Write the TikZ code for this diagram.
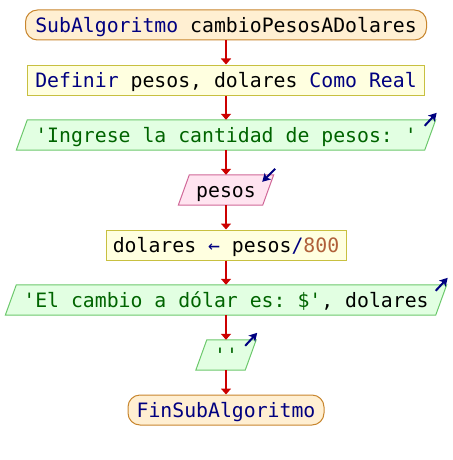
\documentclass[tikz,border=0pt]{standalone}
\usepackage{fontspec}
\setmonofont{DejaVu Sans Mono}
\usetikzlibrary{arrows.meta,backgrounds}

% palette
\definecolor{kw}{HTML}{000080}
\definecolor{str}{HTML}{006400}
\definecolor{num}{HTML}{B0603A}
\definecolor{flow}{HTML}{CC0000}
\definecolor{termfill}{HTML}{FFEFD2}
\definecolor{termline}{HTML}{C8862E}
\definecolor{procfill}{HTML}{FFFFE0}
\definecolor{procline}{HTML}{C8C040}
\definecolor{outfill}{HTML}{E2FFE2}
\definecolor{outline}{HTML}{6CC86C}
\definecolor{infill}{HTML}{FFE4F0}
\definecolor{inline}{HTML}{D06898}

\tikzset{
  base/.style={font=\ttfamily\fontsize{19.8}{24}\selectfont, inner sep=0pt,
    minimum height=30pt, text height=14.4pt, text depth=0pt},
  term/.style={base, draw=termline, fill=termfill, line width=1pt, rounded corners=12pt},
  proc/.style={base, draw=procline, fill=procfill, line width=1pt},
  io/.style={base},
  flowline/.style={draw=flow, line width=2pt, -{Triangle[length=6pt,width=10pt]}},
  outshape/.style={draw=outline, fill=outfill, line width=1pt},
  inshape/.style={draw=inline, fill=infill, line width=1pt},
  iconarrow/.style={draw=kw, line width=2pt, -{Stealth[length=8pt,width=9pt,inset=2pt]}},
}

% slanted box behind an io node: #1 node name, #2 style
\newcommand{\slantbox}[2]{%
  \path[#2] ([xshift=5.5pt]#1.north west) -- ([xshift=5.5pt]#1.north east)
    -- ([xshift=-5.5pt]#1.south east) -- ([xshift=-5.5pt]#1.south west) -- cycle;}

\begin{document}
\begin{tikzpicture}[x=1pt,y=-1pt]
  \useasboundingbox (0,0) rectangle (452,460);

  \node[term, minimum width=401pt] (start) at (226,25)
    {\textcolor{kw}{SubAlgoritmo} cambioPesosADolares};
  \node[proc, minimum width=397pt] (def) at (226,80)
    {\textcolor{kw}{Definir} pesos, dolares \textcolor{kw}{Como Real}};
  \node[io, minimum width=408pt] (out1) at (226,135)
    {\textcolor{str}{'Ingrese la cantidad de pesos: '}};
  \node[io, minimum width=84pt] (in1) at (226,190) {pesos};
  \node[proc, minimum width=240pt] (asg) at (226,245)
    {dolares \textcolor{kw}{←} pesos\textcolor{kw}{/}\textcolor{num}{800}};
  \node[io, minimum width=430pt] (out2) at (226,300)
    {\textcolor{str}{'El cambio a dólar es: \$'}, dolares};
  \node[io, minimum width=49pt] (out3) at (226,355) {\textcolor{str}{''}};
  \node[term, minimum width=196pt] (end) at (226,410)
    {\textcolor{kw}{FinSubAlgoritmo}};

  \begin{scope}[on background layer]
    \slantbox{out1}{outshape}
    \slantbox{in1}{inshape}
    \slantbox{out2}{outshape}
    \slantbox{out3}{outshape}
  \end{scope}

  % control flow
  \draw[flowline] (start.south) -- (def.north);
  \draw[flowline] (def.south) -- (out1.north);
  \draw[flowline] (out1.south) -- (in1.north);
  \draw[flowline] (in1.south) -- (asg.north);
  \draw[flowline] (asg.south) -- (out2.north);
  \draw[flowline] (out2.south) -- (out3.north);
  \draw[flowline] (out3.south) -- (end.north);

  % read / write markers
  \coordinate (o1) at ([xshift=5.5pt]out1.north east);
  \coordinate (i1) at ([xshift=5.5pt]in1.north east);
  \coordinate (o2) at ([xshift=5.5pt]out2.north east);
  \coordinate (o3) at ([xshift=5.5pt]out3.north east);
  \draw[iconarrow] ([shift={(-11,6)}]o1) -- ([shift={(1,-7)}]o1);
  \draw[iconarrow] ([shift={(1.5,-6)}]i1) -- ([shift={(-11.5,7)}]i1);
  \draw[iconarrow] ([shift={(-11,6)}]o2) -- ([shift={(1,-7)}]o2);
  \draw[iconarrow] ([shift={(-11,6)}]o3) -- ([shift={(1,-7)}]o3);
\end{tikzpicture}
\end{document}
